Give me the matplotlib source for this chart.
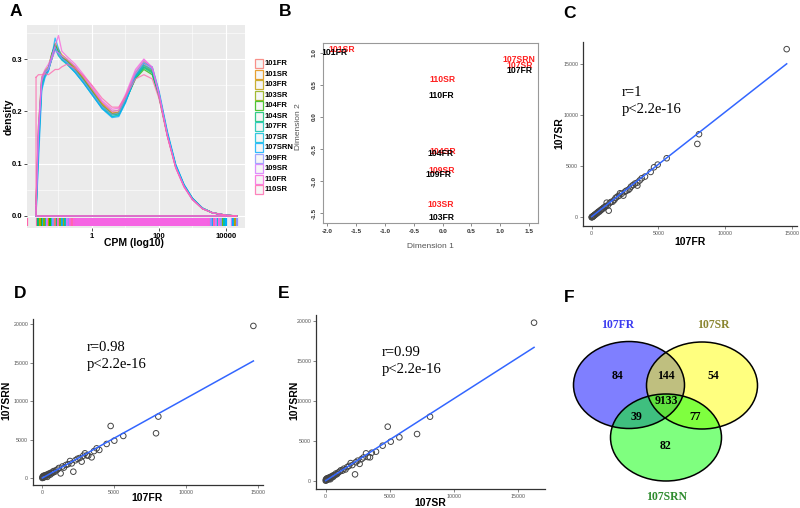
import numpy as np
import matplotlib
matplotlib.use('Agg')
import matplotlib.pyplot as plt
from matplotlib.patches import Ellipse, Rectangle

plt.rcParams['font.family'] = ['Liberation Sans', 'DejaVu Sans']
plt.rcParams['axes.unicode_minus'] = False

# ---------------- data ----------------
samples = ['101FR', '101SR', '103FR', '103SR', '104FR', '104SR', '107FR',
           '107SR', '107SRN', '109FR', '109SR', '110FR', '110SR']
palette = ['#F8766D', '#E18A00', '#BE9C00', '#8CAB00', '#24B700', '#00BE70',
           '#00C1AB', '#00BBDA', '#00ACFC', '#8B93FF', '#D575FE', '#F962DD',
           '#FF65AC']

# log10(CPM) grid of the density curves
dens_x = [-1.67, -1.6, -1.5, -1.4, -1.3, -1.2, -1.1, -1.0, -0.9, -0.75, -0.5,
          -0.25, 0.0, 0.3, 0.6, 0.8, 1.0, 1.3, 1.55, 1.8, 2.0, 2.25, 2.5,
          2.75, 3.0, 3.3, 3.6, 4.0, 4.33]
dens_101FR = [0.02, 0.16, 0.26, 0.275, 0.28, 0.30, 0.322, 0.31, 0.303, 0.298, 0.283, 0.263, 0.24, 0.214, 0.197, 0.199, 0.226, 0.27, 0.291, 0.279, 0.232, 0.154, 0.094, 0.057, 0.032, 0.014, 0.006, 0.0015, 0.0]
dens_101SR = [0.01, 0.13, 0.25, 0.27, 0.28, 0.305, 0.33, 0.318, 0.308, 0.30, 0.285, 0.265, 0.243, 0.216, 0.20, 0.202, 0.228, 0.274, 0.295, 0.283, 0.236, 0.157, 0.095, 0.057, 0.032, 0.014, 0.006, 0.0015, 0.0]
dens_103FR = [0.02, 0.17, 0.265, 0.278, 0.285, 0.31, 0.325, 0.315, 0.305, 0.298, 0.282, 0.262, 0.24, 0.213, 0.196, 0.198, 0.224, 0.268, 0.288, 0.277, 0.231, 0.155, 0.094, 0.057, 0.032, 0.014, 0.006, 0.0015, 0.0]
dens_103SR = [0.01, 0.14, 0.255, 0.272, 0.28, 0.30, 0.32, 0.312, 0.304, 0.296, 0.28, 0.26, 0.238, 0.211, 0.195, 0.197, 0.222, 0.266, 0.285, 0.275, 0.23, 0.155, 0.095, 0.058, 0.033, 0.014, 0.006, 0.0015, 0.0]
dens_104FR = [0.02, 0.15, 0.26, 0.275, 0.282, 0.31, 0.328, 0.31, 0.30, 0.294, 0.278, 0.258, 0.236, 0.21, 0.194, 0.196, 0.22, 0.262, 0.28, 0.27, 0.228, 0.155, 0.095, 0.058, 0.033, 0.015, 0.006, 0.0015, 0.0]
dens_104SR = [0.01, 0.15, 0.258, 0.274, 0.28, 0.305, 0.326, 0.312, 0.302, 0.295, 0.279, 0.259, 0.237, 0.21, 0.193, 0.195, 0.22, 0.264, 0.283, 0.273, 0.229, 0.156, 0.096, 0.058, 0.033, 0.015, 0.006, 0.0015, 0.0]
dens_107FR = [0.01, 0.14, 0.25, 0.27, 0.28, 0.30, 0.32, 0.306, 0.298, 0.29, 0.274, 0.254, 0.232, 0.206, 0.19, 0.193, 0.219, 0.265, 0.285, 0.276, 0.232, 0.158, 0.097, 0.059, 0.034, 0.015, 0.006, 0.0015, 0.0]
dens_107SR = [0.0, 0.12, 0.245, 0.268, 0.278, 0.30, 0.322, 0.308, 0.299, 0.291, 0.275, 0.255, 0.233, 0.207, 0.19, 0.192, 0.217, 0.266, 0.288, 0.28, 0.236, 0.16, 0.098, 0.06, 0.034, 0.015, 0.006, 0.0015, 0.0]
dens_107SRN = [0.0, 0.10, 0.24, 0.265, 0.276, 0.305, 0.34, 0.32, 0.302, 0.292, 0.274, 0.254, 0.232, 0.205, 0.188, 0.19, 0.216, 0.268, 0.292, 0.285, 0.24, 0.162, 0.099, 0.06, 0.034, 0.015, 0.006, 0.0015, 0.0]
dens_109FR = [0.02, 0.16, 0.262, 0.276, 0.283, 0.305, 0.323, 0.31, 0.301, 0.294, 0.278, 0.258, 0.236, 0.21, 0.194, 0.197, 0.223, 0.272, 0.294, 0.281, 0.233, 0.155, 0.094, 0.057, 0.032, 0.014, 0.006, 0.0015, 0.0]
dens_109SR = [0.01, 0.15, 0.258, 0.274, 0.28, 0.30, 0.315, 0.312, 0.306, 0.30, 0.286, 0.266, 0.244, 0.218, 0.20, 0.202, 0.228, 0.276, 0.298, 0.284, 0.235, 0.155, 0.093, 0.056, 0.031, 0.014, 0.006, 0.0015, 0.0]
dens_110FR = [0.02, 0.17, 0.265, 0.28, 0.29, 0.305, 0.325, 0.345, 0.315, 0.305, 0.29, 0.27, 0.248, 0.22, 0.204, 0.206, 0.232, 0.28, 0.30, 0.284, 0.233, 0.153, 0.092, 0.055, 0.031, 0.014, 0.006, 0.0015, 0.0]
dens_110SR = [0.265, 0.27, 0.27, 0.272, 0.27, 0.275, 0.28, 0.28, 0.285, 0.29, 0.282, 0.268, 0.25, 0.225, 0.208, 0.208, 0.228, 0.262, 0.27, 0.262, 0.225, 0.152, 0.092, 0.056, 0.032, 0.014, 0.006, 0.0015, 0.0]
densities = [dens_101FR, dens_101SR, dens_103FR, dens_103SR, dens_104FR,
             dens_104SR, dens_107FR, dens_107SR, dens_107SRN, dens_109FR,
             dens_109SR, dens_110FR, dens_110SR]

# rug (log10 CPM)
rug_dense = [-0.52, 3.46]
rug_left = [-1.94, -1.64, -1.6, -1.55, -1.5, -1.46, -1.42, -1.38, -1.33, -1.28,
            -1.24, -1.2, -1.15, -1.1, -1.05, -1.0, -0.95, -0.9, -0.85, -0.8,
            -0.75, -0.7, -0.65, -0.6, -0.55]
rug_left_idx = [12, 12, 5, 2, 4, 8, 3, 6, 10, 1, 4, 7, 9, 0, 5, 11, 3, 8, 2,
                6, 10, 9, 11, 12, 11]
rug_right = [3.5, 3.55, 3.6, 3.65, 3.7, 3.75, 3.8, 3.85, 3.9, 3.95, 4.0,
             4.17, 4.22, 4.27, 4.33]
rug_right_idx = [11, 9, 8, 12, 10, 7, 11, 9, 3, 6, 8, 10, 8, 2, 9]

# MDS plot
mds_names = ['101SR', '103SR', '104SR', '107SR', '107SRN', '109SR', '110SR',
             '101FR', '103FR', '104FR', '107FR', '109FR', '110FR']
mds_dim1 = [-1.76, -0.03, 0.0, 1.33, 1.33, -0.01, 0.0,
            -1.87, -0.02, -0.04, 1.33, -0.08, -0.03]
mds_dim2 = [1.05, -1.36, -0.54, 0.81, 0.90, -0.83, 0.59,
            1.0, -1.57, -0.57, 0.72, -0.90, 0.34]

# scatter C: 107FR vs 107SR
c_x = [0, 15, 30, 50, 70, 90, 110, 140, 170, 200, 240, 280, 320, 370, 420, 470,
       520, 580, 640, 700, 760, 830, 900, 980, 1060, 1125, 1200, 1275, 1350,
       1450, 1575, 1700, 1800, 1925, 2050, 2125, 2250, 2375, 2500, 2600, 2750,
       2850, 2950, 3100, 3250, 3425, 3425, 3600, 3750, 4000, 4425, 4675, 4950,
       5625, 7925, 8050, 14625]
c_y = [0, 20, 25, 60, 60, 100, 120, 130, 180, 190, 260, 270, 330, 400, 400, 500,
       560, 560, 680, 700, 800, 840, 950, 980, 1100, 1430, 1150, 650, 1400,
       1500, 1530, 1700, 1900, 2020, 2100, 2350, 2300, 2120, 2500, 2600, 2670,
       2800, 3000, 3150, 3300, 3390, 3100, 3600, 3810, 3980, 4430, 4890, 5150,
       5770, 7170, 8120, 16430]
c_fit = [1.021, 65]

# scatter D: 107FR vs 107SRN
d_x = [0, 20, 40, 60, 90, 120, 160, 200, 250, 300, 350, 400, 450, 500, 560, 620,
       700, 780, 860, 950, 1050, 1150, 1275, 1400, 1500, 1650, 1800, 1930, 2050,
       2160, 2300, 2450, 2600, 2740, 2850, 2970, 3100, 3200, 3435, 3600, 3785,
       3970, 4480, 4760, 5015, 5640, 7920, 8080, 14700]
d_y = [0, 150, 40, 250, 100, 300, 120, 350, 200, 420, 150, 500, 380, 600, 450,
       700, 650, 900, 800, 1000, 1100, 1300, 600, 1500, 1350, 1700, 1800, 2210,
       1900, 820, 2300, 2500, 2600, 2130, 2900, 3210, 2950, 2910, 2690, 3500,
       3860, 3650, 4430, 6770, 4860, 5470, 5820, 7990, 19790]
d_fit = [1.036, 0]

# scatter E: 107SR vs 107SRN
e_x = [0, 20, 40, 70, 100, 130, 170, 210, 260, 310, 360, 410, 470, 520, 580, 640,
       720, 800, 880, 970, 1070, 1180, 1300, 1420, 1540, 1680, 1820, 1950, 2080,
       2290, 2350, 2500, 2650, 2800, 2950, 3150, 3300, 3460, 3600, 3930, 4450,
       4845, 5080, 5755, 7135, 8150, 16275]
e_y = [0, 150, 60, 250, 120, 300, 150, 350, 220, 420, 180, 500, 400, 600, 480,
       700, 680, 900, 820, 1000, 1120, 1300, 1250, 1500, 1400, 1700, 1850, 2200,
       1950, 790, 2300, 2500, 2100, 2700, 2900, 3420, 2950, 2920, 3500, 3625,
       4375, 6750, 4875, 5420, 5830, 8000, 19750]
e_fit = [1.024, 0]

# Venn counts
venn_sets = ['107FR', '107SR', '107SRN']
venn_counts = {'84': 84, '144': 144, '54': 54, '9133': 9133, '39': 39, '77': 77, '82': 82}

# ---------------- figure ----------------
W, H = 800, 508
fig = plt.figure(figsize=(8, 5.08), dpi=100)


def px_axes(x0, y0, x1, y1):
    return fig.add_axes([x0 / W, 1 - y1 / H, (x1 - x0) / W, (y1 - y0) / H])


ov = fig.add_axes([0, 0, 1, 1], zorder=5)
ov.set_xlim(0, W)
ov.set_ylim(H, 0)
ov.axis('off')

# panel letters
for letter, (lx, ly) in zip('ABCDEF', [(15.5, 11), (285, 12), (570, 14),
                                         (20, 293), (284, 293), (569, 298)]):
    ov.text(lx, ly, letter, fontsize=12.5, fontweight='bold', ha='center', va='center')

# ---- A: density ----
axA = px_axes(27, 25, 245, 228)
axA.set_facecolor('#EBEBEB')
for ys, col in zip(densities, palette):
    xs = list(dens_x) + [dens_x[-1], dens_x[0], dens_x[0]]
    yy = list(ys) + [0, 0, ys[0]]
    axA.plot(xs, yy, color=col, lw=0.9, alpha=0.75)
axA.fill_between(rug_dense, -0.019, -0.0045, color='#F564E3', lw=0)
axA.vlines(rug_left, -0.019, -0.0045, colors=[palette[i] for i in rug_left_idx], lw=1.6)
axA.vlines(rug_right, -0.019, -0.0045, colors=[palette[i] for i in rug_right_idx], lw=1.6)
axA.set_xlim(-1.94, 4.57)
axA.set_ylim(-0.023, 0.365)
axA.set_xticks([0, 2, 4])
axA.set_xticklabels(['1', '100', '10000'])
axA.set_xticks([-1, 1, 3], minor=True)
axA.set_yticks([0, 0.1, 0.2, 0.3])
axA.set_yticklabels(['0.0', '0.1', '0.2', '0.3'])
axA.set_yticks([0.05, 0.15, 0.25, 0.35], minor=True)
axA.grid(which='major', color='white', lw=0.8)
axA.grid(which='minor', color='white', lw=0.4)
axA.set_axisbelow(True)
axA.tick_params(which='major', length=2, width=0.6, color='#333333', labelsize=5.5, pad=1.5)
axA.tick_params(which='minor', length=0)
for lab in axA.get_xticklabels() + axA.get_yticklabels():
    lab.set_fontweight('bold')
for s in axA.spines.values():
    s.set_visible(False)
ov.text(134, 243, 'CPM (log10)', fontsize=7.5, fontweight='bold', ha='center', va='center')
ov.text(8.5, 117, 'density', fontsize=7.5, fontweight='bold', ha='center', va='center', rotation=90)
for k, (name, col) in enumerate(zip(samples, palette)):
    yc = 63.6 + 10.5 * k
    ov.add_patch(Rectangle((255, yc - 4.6), 8, 9.2, facecolor='#F4F4F4',
                           edgecolor=col, lw=0.9, alpha=0.8))
    ov.text(264.5, yc, name, fontsize=5.5, fontweight='bold', va='center', ha='left')

# ---- B: MDS ----
axB = px_axes(323, 43, 538, 223)
for name, x, y in zip(mds_names, mds_dim1, mds_dim2):
    col = 'black' if name.endswith('FR') else '#FF2020'
    axB.text(x, y, name, color=col, fontsize=6.2, fontweight='bold',
             ha='center', va='center', clip_on=True)
axB.set_xlim(-2.078, 1.655)
axB.set_ylim(-1.656, 1.156)
axB.set_xticks(np.arange(-2.0, 1.51, 0.5))
axB.set_yticks(np.arange(-1.5, 1.01, 0.5))
axB.set_xticklabels(['%.1f' % v for v in np.arange(-2.0, 1.51, 0.5)])
axB.set_yticklabels(['%.1f' % v for v in np.arange(-1.5, 1.01, 0.5)], rotation=90, va='center')
axB.tick_params(length=2.5, width=0.6, color='#777777', labelsize=4.6, pad=2,
                labelcolor='#333333')
for lab in axB.get_xticklabels() + axB.get_yticklabels():
    lab.set_fontweight('bold')
for s in axB.spines.values():
    s.set_color('#999999')
    s.set_linewidth(0.8)
ov.text(430, 247, 'Dimension 1', fontsize=6, color='#555555', ha='center', va='center')
ov.text(299, 127, 'Dimension 2', fontsize=6, color='#555555', ha='center', va='center', rotation=90)


# ---- C, D, E: scatter ----
def scatter_panel(box, x, y, fit, xlim, ylim, yticks, r_txt, txt_pos):
    ax = px_axes(*box)
    ax.scatter(x, y, s=16, facecolors='none', edgecolors='#444444', linewidths=0.7, zorder=2)
    xs = np.array([min(x), max(x)])
    ax.plot(xs, fit[0] * xs + fit[1], color='#3366FF', lw=1.1, zorder=3)
    ax.set_xlim(*xlim)
    ax.set_ylim(*ylim)
    ax.set_xticks([0, 5000, 10000, 15000])
    ax.set_yticks(yticks)
    ax.tick_params(length=2, width=0.5, color='#555555', labelsize=3.8,
                   labelcolor='#555555', pad=1.5)
    for side in ['top', 'right']:
        ax.spines[side].set_visible(False)
    for side in ['left', 'bottom']:
        ax.spines[side].set_color('#333333')
        ax.spines[side].set_linewidth(0.9)
    ax.text(txt_pos[0], txt_pos[1], r_txt[0], fontsize=10.5, family='Liberation Serif',
            ha='left', va='center')
    ax.text(txt_pos[0], txt_pos[2], r_txt[1], fontsize=10.5, family='Liberation Serif',
            ha='left', va='center')
    return ax


scatter_panel((583, 42, 797, 226), c_x, c_y, c_fit, (-652, 15400), (-850, 17130),
              [0, 5000, 10000, 15000], ['r=1', 'p<2.2e-16'], (2270, 12160, 10500))
ov.text(690, 242, '107FR', fontsize=7.5, fontweight='bold', ha='center', va='center')
ov.text(559, 133, '107SR', fontsize=7.5, fontweight='bold', ha='center', va='center', rotation=90)

scatter_panel((33, 319, 263, 485), d_x, d_y, d_fit, (-648, 15370), (-911, 20690),
              [0, 5000, 10000, 15000, 20000], ['r=0.98', 'p<2.2e-16'], (3113, 17040, 14830))
ov.text(147, 498, '107FR', fontsize=7.5, fontweight='bold', ha='center', va='center')
ov.text(6, 400, '107SRN', fontsize=7.5, fontweight='bold', ha='center', va='center', rotation=90)

scatter_panel((316, 315, 545, 489), e_x, e_y, e_fit, (-758, 17130), (-1040, 20710),
              [0, 5000, 10000, 15000, 20000], ['r=0.99', 'p<2.2e-16'], (4400, 15960, 13960))
ov.text(430, 503, '107SR', fontsize=7.5, fontweight='bold', ha='center', va='center')
ov.text(294, 400, '107SRN', fontsize=7.5, fontweight='bold', ha='center', va='center', rotation=90)

# ---- F: Venn ----
venn_centers = [(629, 385), (702, 385.5), (666, 437.5)]
venn_fill = ['#0000FF', '#FFFF00', '#00FF00']
for (cx, cy), fc in zip(venn_centers, venn_fill):
    ov.add_patch(Ellipse((cx, cy), 111, 87, facecolor=fc, alpha=0.5, lw=0))
for (cx, cy) in venn_centers:
    ov.add_patch(Ellipse((cx, cy), 111, 87, facecolor='none', edgecolor='black', lw=1.1))
venn_label_pos = {'84': (618, 376), '144': (666, 376), '54': (713, 376),
                  '9133': (666, 401), '39': (636, 417), '77': (695, 417),
                  '82': (666, 446)}
for key, val in venn_counts.items():
    ov.text(*venn_label_pos[key], str(val), fontsize=8.5, fontweight='bold',
            family='Liberation Serif', ha='center', va='center')
for name, pos, col in zip(venn_sets, [(618, 325), (713, 325), (667, 497)],
                          ['#3A3AF0', '#8A8530', '#2E8B2E']):
    ov.text(*pos, name, fontsize=8.5, fontweight='bold', family='Liberation Serif',
            color=col, ha='center', va='center')

fig.savefig('out.png', dpi=100)
